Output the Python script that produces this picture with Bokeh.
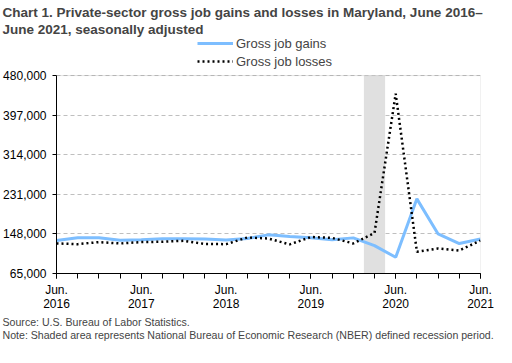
from bokeh.plotting import figure
from bokeh.models import (Title, Legend, LegendItem, BoxAnnotation, FixedTicker,
                          NumeralTickFormatter, ColumnDataSource, Range1d)
from bokeh.embed import file_html
from bokeh.resources import INLINE

# ---- data ----
quarters = ["Jun 2016", "Sep 2016", "Dec 2016", "Mar 2017", "Jun 2017", "Sep 2017", "Dec 2017",
            "Mar 2018", "Jun 2018", "Sep 2018", "Dec 2018", "Mar 2019", "Jun 2019", "Sep 2019",
            "Dec 2019", "Mar 2020", "Jun 2020", "Sep 2020", "Dec 2020", "Mar 2021", "Jun 2021"]
gains = [134000, 140000, 140000, 134500, 136000, 138000, 138000, 137500, 135000, 138500, 146000,
         142500, 140000, 136000, 139700, 123400, 99000, 221500, 148000, 127800, 137500]
losses = [128000, 126500, 130800, 128000, 130800, 131600, 133600, 127000, 126500, 140500, 138300,
          126000, 141500, 139700, 128000, 150000, 442000, 110500, 117500, 113300, 134000]
y_ticks = [65000, 148000, 231000, 314000, 397000, 480000]
x_tick_idx = [0, 4, 8, 12, 16, 20]
x_tick_labels = ["Jun.\n2016", "Jun.\n2017", "Jun.\n2018", "Jun.\n2019", "Jun.\n2020", "Jun.\n2021"]
recession = [14.5, 15.5]  # Feb 2020 - Apr 2020 in quarter-index units

title_lines = ["Chart 1. Private-sector gross job gains and losses in Maryland, June 2016\u2013",
               "June 2021, seasonally adjusted"]
series_names = ["Gross job gains", "Gross job losses"]
source_text = "Source: U.S. Bureau of Labor Statistics."
note_text = "Note: Shaded area represents National Bureau of Economic Research (NBER) defined recession period."

FONT = "Liberation Sans"
W, H = 496, 347
LEFT, RIGHT = 54, 16
TOP, BOTTOM = 33, 74          # borders around the frame
AXIS_PX = 203                 # pixel height of the 65,000-480,000 axis span
frame_px = H - TOP - BOTTOM
y_lo, y_hi = y_ticks[0], y_ticks[-1]
y_top = y_lo + frame_px * (y_hi - y_lo) / AXIS_PX   # headroom above the axis for the legend

n = len(quarters)
src = ColumnDataSource(dict(x=list(range(n)), gains=gains, losses=losses, q=quarters))
p = figure(width=W, height=H, output_backend="svg", toolbar_location=None,
           x_range=Range1d(0, n - 1), y_range=Range1d(y_lo, y_top),
           min_border_left=LEFT, min_border_right=RIGHT, min_border_top=TOP,
           min_border_bottom=BOTTOM, title_location=None)
p.outline_line_color = None
p.background_fill_color = "white"

p.xgrid.visible = False
p.ygrid.grid_line_color = "#BFBFBF"
p.ygrid.grid_line_dash = "4 3"
p.ygrid.grid_line_width = 1

p.add_layout(BoxAnnotation(left=recession[0], right=recession[1], bottom=y_lo, top=y_hi,
                           fill_color="#E0E0E0", fill_alpha=1.0, line_color=None, level="underlay"))
p.add_layout(BoxAnnotation(left=0, right=n - 1, bottom=y_lo, top=y_hi, fill_alpha=0,
                           line_color="#A0A0A0", line_width=1, level="underlay"))

r1 = p.line("x", "gains", source=src, line_color="#7DBEFF", line_width=3)
r2 = p.line("x", "losses", source=src, line_color="black", line_width=2.5, line_dash="2 3")

xa = p.xaxis[0]
xa.ticker = FixedTicker(ticks=x_tick_idx, minor_ticks=list(range(n)))
xa.major_label_overrides = {i: t for i, t in zip(x_tick_idx, x_tick_labels)}
xa.major_tick_out = 5
xa.major_tick_in = 0
xa.minor_tick_out = 5
xa.minor_tick_in = 0
xa.major_label_standoff = 4
xa.major_label_text_font = FONT
xa.major_label_text_font_size = "12px"
xa.major_label_text_line_height = 1.0
xa.major_label_text_color = "black"
xa.axis_line_color = "black"

ya = p.yaxis[0]
ya.ticker = FixedTicker(ticks=y_ticks)
ya.bounds = (y_lo, y_hi)
ya.formatter = NumeralTickFormatter(format="0,0")
ya.major_tick_out = 4
ya.major_tick_in = 0
ya.minor_tick_line_color = None
ya.major_label_standoff = 6
ya.major_label_text_font = FONT
ya.major_label_text_font_size = "12px"
ya.major_label_text_color = "black"
ya.axis_line_color = "black"

# legend inside the headroom of the frame (bottom-left corner measured from the frame's bottom-left)
legend = Legend(items=[LegendItem(label=series_names[0], renderers=[r1]),
                       LegendItem(label=series_names[1], renderers=[r2])],
                location=(195 - LEFT, (H - BOTTOM) - 70.3), orientation="vertical",
                glyph_width=36, glyph_height=18, label_height=18, label_standoff=3,
                spacing=0, padding=0, margin=0, border_line_color=None,
                background_fill_alpha=0, label_text_font=FONT, label_text_font_size="13px")
p.add_layout(legend)

p.add_layout(Title(text="\n".join(title_lines), align="left", offset=-LEFT, standoff=5.5,
                   text_font=FONT, text_font_style="bold", text_font_size="13.5px",
                   text_line_height=1.11), "above")
p.add_layout(Title(text=source_text + "\n" + note_text, align="left", offset=-LEFT, standoff=0,
                   text_font=FONT, text_font_style="normal", text_font_size="10.6px",
                   text_line_height=1.15), "below")

open("out.html", "w").write(file_html(p, INLINE))
